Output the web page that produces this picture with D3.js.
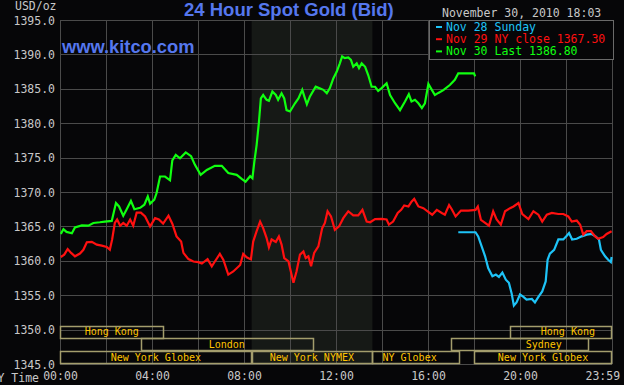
<!DOCTYPE html>
<html>
<head>
<meta charset="utf-8">
<script src="https://cdn.jsdelivr.net/npm/d3@7"></script>
<style>
  body { margin: 0; background: #060608; }
  .mono { font-family: "DejaVu Sans Mono", monospace; font-size: 11.5px; }
  .sess { font-family: "DejaVu Sans Mono", monospace; font-size: 10px; }
</style>
</head>
<body>
<div id="chart"></div>
<script>
var nov30Times = [2, 9, 17, 31, 39, 57, 74, 87, 104, 117, 135, 146, 154, 165, 174, 185, 194, 209, 220, 229,
  235, 246, 252, 261, 274, 287, 293, 302, 313, 328, 342, 352, 367, 383, 404, 422, 439, 461, 474, 484,
  496, 502, 507, 513, 519, 524, 530, 539, 545, 554, 563, 569, 578, 585, 591, 600, 613, 622, 632, 639,
  644, 652, 667, 676, 687, 696, 704, 713, 722, 730, 736, 743, 752, 759, 765, 774, 780, 787, 796, 804,
  813, 822, 830, 839, 852, 861, 874, 887, 900, 910, 917, 926, 935, 944, 952, 961, 970, 978, 987, 1000,
  1017, 1030, 1039, 1080, 1083];
var nov30Values = [1363.9, 1364.6, 1364.2, 1364.0, 1364.85, 1365.15, 1365.1, 1365.5, 1365.6, 1365.7, 1365.8, 1368.4, 1367.9, 1366.55, 1367.5, 1368.7, 1367.5, 1367.7, 1368.15, 1369.35,
  1368.3, 1368.9, 1369.85, 1372.25, 1372.25, 1371.7, 1374.6, 1375.4, 1374.9, 1375.75, 1375.2, 1373.95, 1372.5, 1373.2, 1373.8, 1373.8, 1372.75, 1372.5, 1371.9, 1371.5,
  1372.3, 1372.0, 1374.4, 1376.85, 1380.2, 1383.6, 1384.1, 1383.4, 1383.25, 1384.6, 1384.1, 1383.4, 1384.35, 1383.6, 1381.9, 1381.7, 1382.9, 1383.6, 1384.85, 1383.6,
  1382.75, 1383.9, 1385.3, 1385.1, 1384.85, 1384.35, 1385.1, 1386.5, 1387.5, 1388.7, 1389.7, 1389.45, 1389.55, 1389.2, 1388.2, 1388.7, 1388.0, 1388.7, 1388.2, 1387.0,
  1385.3, 1385.3, 1384.7, 1385.1, 1385.8, 1384.1, 1382.9, 1381.9, 1383.15, 1384.2, 1383.15, 1383.4, 1382.9, 1382.2, 1382.9, 1385.7, 1384.85, 1384.1, 1384.4, 1384.8,
  1385.55, 1386.3, 1387.25, 1387.25, 1386.8];

var nov29Times = [2, 11, 20, 29, 39, 52, 61, 70, 83, 96, 109, 122, 130, 136, 143, 149, 157, 165, 174, 183,
  191, 200, 211, 222, 235, 248, 258, 269, 283, 293, 304, 316, 322, 335, 348, 361, 370, 385, 396, 404,
  417, 426, 439, 452, 470, 478, 487, 498, 504, 513, 522, 530, 539, 545, 552, 563, 571, 578, 585, 596,
  604, 609, 617, 626, 635, 641, 648, 655, 663, 674, 684, 691, 698, 707, 717, 728, 739, 752, 765, 778,
  789, 800, 809, 822, 839, 852, 858, 869, 881, 890, 898, 909, 917, 924, 935, 948, 959, 971, 983, 996,
  1004, 1015, 1022, 1032, 1046, 1065, 1084, 1090, 1098, 1109, 1119, 1130, 1139, 1150, 1161, 1174, 1183, 1196, 1206, 1222,
  1235, 1248, 1258, 1270, 1283, 1300, 1313, 1326, 1335, 1348, 1357, 1365, 1374, 1385, 1396, 1404, 1417, 1426, 1439];
var nov29Values = [1360.55, 1360.9, 1361.7, 1361.15, 1360.65, 1361.05, 1361.6, 1362.7, 1362.75, 1362.35, 1362.2, 1362.0, 1361.6, 1363.1, 1365.5, 1366.0, 1365.1, 1365.5, 1365.1, 1366.0,
  1365.1, 1367.0, 1367.0, 1366.45, 1365.0, 1366.2, 1366.0, 1365.4, 1366.55, 1365.4, 1363.55, 1362.8, 1361.15, 1360.25, 1359.9, 1359.8, 1359.6, 1360.25, 1359.2, 1359.9,
  1361.0, 1360.15, 1358.0, 1358.45, 1359.4, 1361.0, 1360.5, 1360.2, 1362.8, 1364.3, 1365.7, 1364.75, 1363.3, 1361.95, 1363.1, 1362.75, 1363.55, 1362.35, 1360.4, 1359.9,
  1358.0, 1356.8, 1358.45, 1360.9, 1361.35, 1360.4, 1360.65, 1359.2, 1361.15, 1362.1, 1364.75, 1365.5, 1367.2, 1366.45, 1364.5, 1365.0, 1366.2, 1367.2, 1366.6, 1366.6,
  1367.4, 1365.7, 1365.6, 1366.05, 1366.1, 1366.0, 1365.25, 1365.7, 1366.95, 1367.4, 1368.05, 1367.9, 1368.6, 1369.0, 1367.9, 1367.65, 1367.2, 1366.7, 1367.4, 1366.95,
  1366.7, 1368.1, 1367.5, 1366.45, 1367.3, 1367.3, 1367.4, 1367.9, 1365.95, 1365.5, 1365.1, 1367.2, 1366.0, 1365.25, 1367.2, 1367.65, 1367.9, 1368.4, 1366.8, 1366.05,
  1367.2, 1366.7, 1365.7, 1366.7, 1366.95, 1366.8, 1366.8, 1366.45, 1365.7, 1365.85, 1365.25, 1363.8, 1364.3, 1364.3, 1363.55, 1363.2, 1363.45, 1363.9, 1364.3];

var nov28Times = [1039, 1084, 1091, 1100, 1109, 1117, 1128, 1137, 1145, 1154, 1163, 1171, 1178, 1184, 1191, 1200, 1209, 1217, 1231, 1239,
  1248, 1258, 1267, 1272, 1278, 1289, 1300, 1313, 1322, 1328, 1336, 1348, 1361, 1374, 1387, 1397, 1406, 1411, 1422, 1430, 1437, 1439];
var nov28Values = [1364.15, 1364.15, 1363.55, 1362.1, 1360.65, 1358.95, 1357.75, 1358.0, 1357.65, 1358.3, 1357.25, 1356.8, 1355.3, 1353.5, 1353.95, 1355.1, 1354.75, 1354.35, 1354.45, 1353.95,
  1354.75, 1355.55, 1357.0, 1360.15, 1361.05, 1361.6, 1363.1, 1363.1, 1363.65, 1364.05, 1363.1, 1363.2, 1363.55, 1363.8, 1363.9, 1363.55, 1363.1, 1361.6, 1360.65, 1360.15, 1359.8, 1360.55];

var priceTicks = [1395, 1390, 1385, 1380, 1375, 1370, 1365, 1360, 1355, 1350, 1345];
var timeTicks = [0, 240, 480, 720, 960, 1200, 1439];
var timeLabels = ["00:00", "04:00", "08:00", "12:00", "16:00", "20:00", "23:59"];

var legendLabels = ["Nov 28 Sunday", "Nov 29 NY close 1367.30", "Nov 30 Last 1386.80"];

// trading sessions along the bottom, in minutes
var sessionNames = ["Hong Kong", "London", "New York Globex", "New York NYMEX", "NY Globex", "Sydney", "Hong Kong", "New York Globex"];
var sessionStart = [0, 210, 0, 500, 815, 1020, 1173, 1080];
var sessionEnd = [270, 660, 500, 815, 1045, 1380, 1440, 1440];
var sessionRow = [0, 1, 2, 2, 2, 1, 0, 2];
var sessionLabelAt = [135, 435, 250, 657, 912, 1262, 1325, 1260];

var nymexOpen = 500, nymexClose = 815;

var W = 624, H = 385;
var m = {left: 60, right: 612, top: 20, bottom: 364};

var svg = d3.select('#chart').append('svg')
  .attr('width', W).attr('height', H)
  .style('display', 'block');

svg.append('rect').attr('width', W).attr('height', H).attr('fill', '#060608');

var x = d3.scaleLinear().domain([0, 1440]).range([m.left, m.right]);
var y = d3.scaleLinear().domain([1345, 1395]).range([m.bottom, m.top]);

// NYMEX pit hours shading
svg.append('rect')
  .attr('x', x(nymexOpen)).attr('y', m.top)
  .attr('width', x(nymexClose) - x(nymexOpen)).attr('height', m.bottom - m.top)
  .attr('fill', '#161916');

// grid
var grid = svg.append('g').attr('stroke', '#4a4a4a').attr('stroke-width', 1);
grid.selectAll('line.h').data(priceTicks).enter().append('line')
  .attr('x1', m.left).attr('x2', m.right)
  .attr('y1', function(d) { return Math.round(y(d)) + 0.5; })
  .attr('y2', function(d) { return Math.round(y(d)) + 0.5; });
grid.selectAll('line.v').data(d3.range(0, 1441, 120)).enter().append('line')
  .attr('y1', m.top).attr('y2', m.bottom)
  .attr('x1', function(d) { return Math.round(x(d)) + 0.5; })
  .attr('x2', function(d) { return Math.round(x(d)) + 0.5; });

// sessions
var rowH = (m.bottom - y(1350) + 4) / 3;
var rowTop = function(r) { return m.bottom - (3 - r) * rowH; };
var sess = svg.append('g');
sess.selectAll('rect').data(sessionNames).enter().append('rect')
  .attr('x', function(d, i) { return Math.round(x(sessionStart[i])) + 0.5; })
  .attr('y', function(d, i) { return Math.round(rowTop(sessionRow[i])) + 0.5; })
  .attr('width', function(d, i) { return Math.round(x(sessionEnd[i]) - x(sessionStart[i])) - 1; })
  .attr('height', Math.round(rowH) - 1)
  .attr('fill', 'none')
  .attr('stroke', '#a39d6c')
  .attr('stroke-width', 1.5);
sess.selectAll('text').data(sessionNames).enter().append('text')
  .attr('class', 'sess')
  .attr('x', function(d, i) { return x(sessionLabelAt[i]); })
  .attr('y', function(d, i) { return rowTop(sessionRow[i]) + rowH - 3; })
  .attr('text-anchor', 'middle')
  .attr('fill', '#ffc400')
  .text(function(d) { return d; });

// axes
var yAxis = d3.axisLeft(y).tickValues(priceTicks).tickFormat(d3.format('.1f')).tickSize(0).tickPadding(5);
svg.append('g').attr('transform', 'translate(' + m.left + ',0)').call(yAxis)
  .call(function(g) { g.select('.domain').remove(); })
  .selectAll('text').attr('class', 'mono').attr('fill', '#c8c8c8').attr('dy', '0.36em');

var xAxis = d3.axisBottom(x).tickValues(timeTicks)
  .tickFormat(function(d, i) { return timeLabels[i]; }).tickSize(0).tickPadding(8);
var xg = svg.append('g').attr('transform', 'translate(0,' + m.bottom + ')').call(xAxis)
  .call(function(g) { g.select('.domain').remove(); });
xg.selectAll('text').attr('class', 'mono').attr('fill', '#c8c8c8');
xg.selectAll('.tick').filter(function(d) { return d === 1439; })
  .select('text').attr('text-anchor', 'end').attr('x', 8);

// price lines
svg.append('clipPath').attr('id', 'plot')
  .append('rect').attr('x', m.left).attr('y', m.top).attr('width', m.right - m.left + 2).attr('height', m.bottom - m.top);

var line = d3.line()
  .x(function(d) { return x(d[0]); })
  .y(function(d) { return y(d[1]); });

var series = [
  {times: nov28Times, values: nov28Values, color: '#1ec3f7'},
  {times: nov29Times, values: nov29Values, color: '#ff1010'},
  {times: nov30Times, values: nov30Values, color: '#10ff10'}
];
svg.append('g').attr('clip-path', 'url(#plot)')
  .selectAll('path').data(series).enter().append('path')
  .attr('d', function(s) { return line(d3.zip(s.times, s.values)); })
  .attr('fill', 'none')
  .attr('stroke', function(s) { return s.color; })
  .attr('stroke-width', 2.2)
  .attr('stroke-linejoin', 'miter');

// legend
var lg = svg.append('g');
lg.append('rect').attr('x', 429.5).attr('y', 20.5).attr('width', 184).attr('height', 39)
  .attr('fill', '#060608').attr('stroke', '#6a6a6a');
lg.selectAll('line').data(legendLabels).enter().append('line')
  .attr('x1', 436).attr('x2', 442)
  .attr('y1', function(d, i) { return 27 + i * 12.2; })
  .attr('y2', function(d, i) { return 27 + i * 12.2; })
  .attr('stroke', function(d, i) { return series[i].color; })
  .attr('stroke-width', 2);
lg.selectAll('text').data(legendLabels).enter().append('text')
  .attr('class', 'mono')
  .attr('x', 446)
  .attr('y', function(d, i) { return 31 + i * 12.2; })
  .attr('fill', function(d, i) { return series[i].color; })
  .text(function(d) { return d; });

// titles and labels
svg.append('text').attr('x', 184).attr('y', 16)
  .style('font-family', '"Liberation Sans", Arial, sans-serif').style('font-weight', 'bold').style('font-size', '18.5px')
  .attr('fill', '#5577ee').text('24 Hour Spot Gold (Bid)');
svg.append('text').attr('x', 62).attr('y', 52.5)
  .style('font-family', '"Liberation Sans", Arial, sans-serif').style('font-weight', 'bold').style('font-size', '18.3px')
  .attr('fill', '#5577ee').text('www.kitco.com');
svg.append('text').attr('class', 'mono').attr('x', 442).attr('y', 16.5)
  .attr('fill', '#c8c8c8').text('November 30, 2010 18:03');
svg.append('text').attr('class', 'mono').attr('x', 15).attr('y', 10)
  .attr('fill', '#c8c8c8').text('USD/oz');
svg.append('text').attr('class', 'mono').attr('x', 39).attr('y', 381.5).attr('text-anchor', 'end')
  .attr('fill', '#c8c8c8').text('NY Time');
</script>
</body>
</html>
